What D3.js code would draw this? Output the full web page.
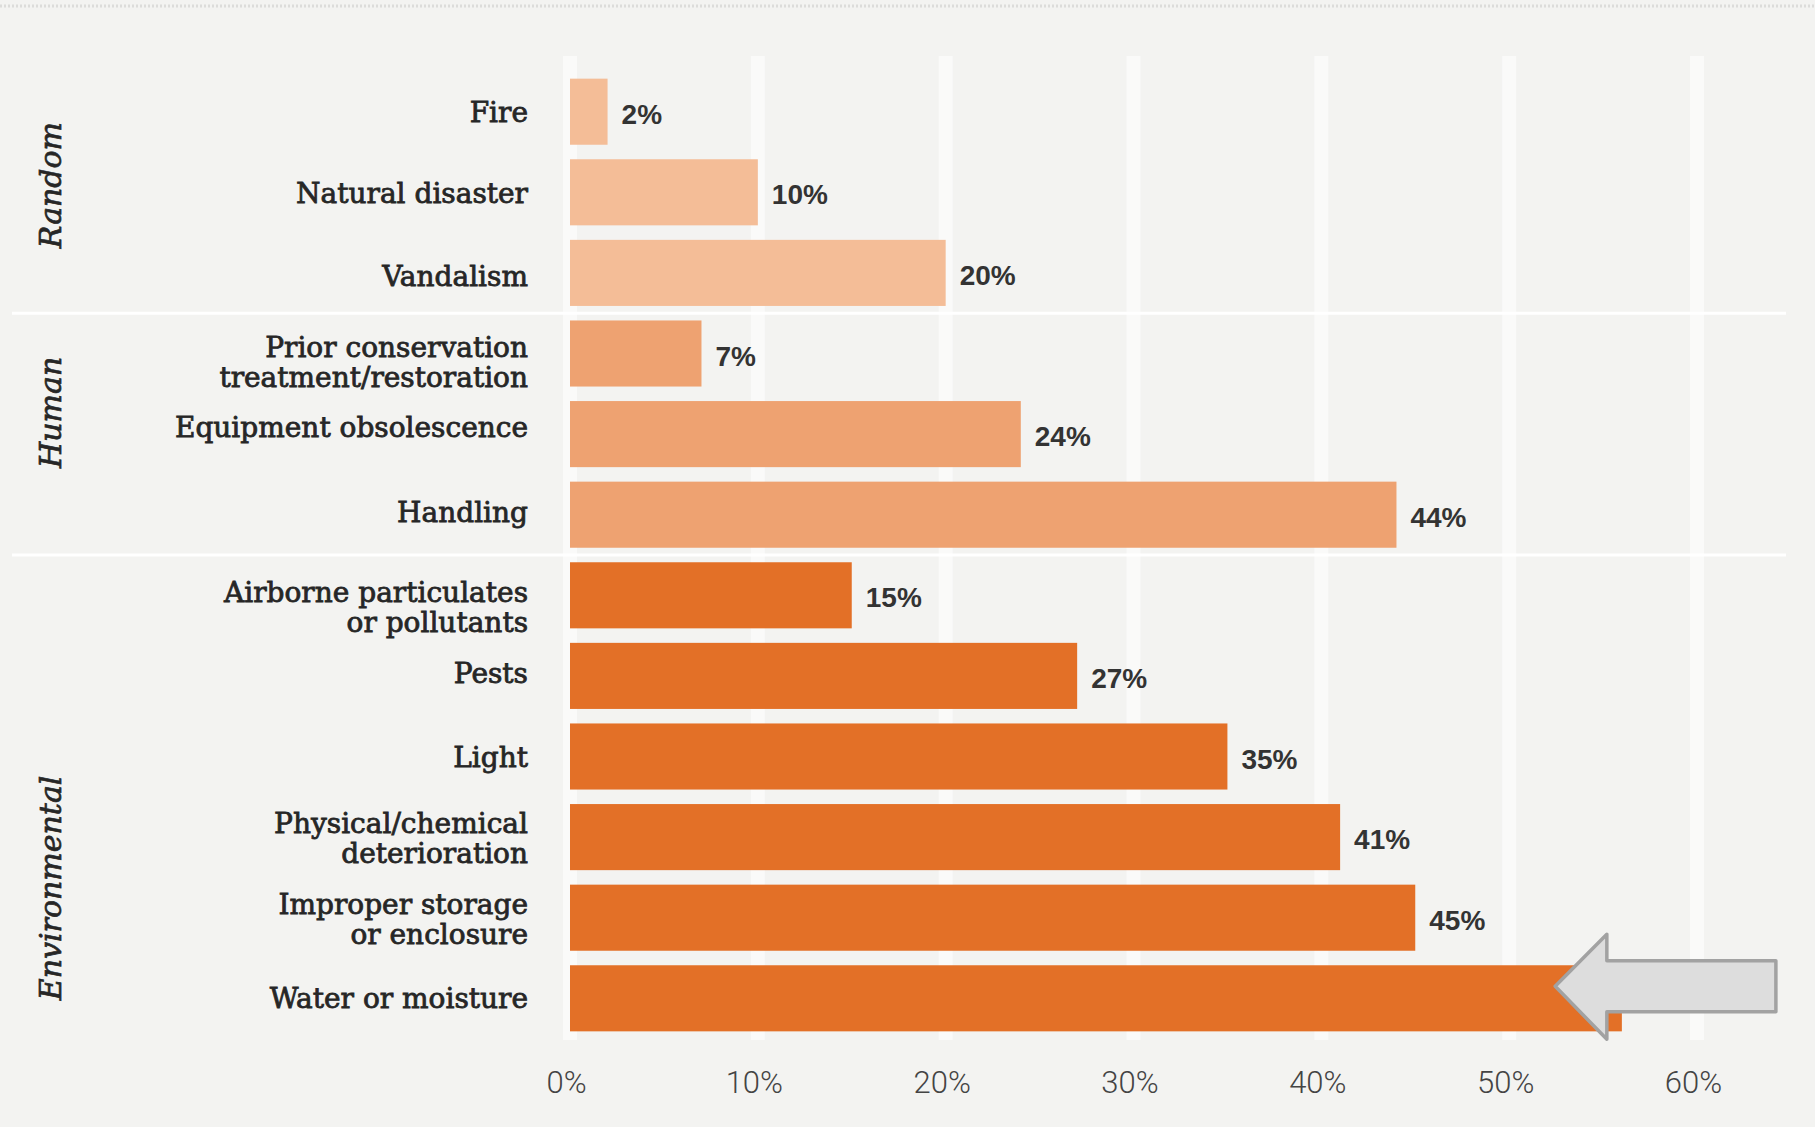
<!DOCTYPE html>
<html>
<head>
<meta charset="utf-8">
<script src="https://cdn.jsdelivr.net/npm/d3@7"></script>
<style>
  html, body { margin: 0; padding: 0; background: #f3f3f1; }
  svg { display: block; }
</style>
</head>
<body>
<svg id="chart" width="1815" height="1127"></svg>
<script>
// ---- data ----
const categories = [
  "Fire", "Natural disaster", "Vandalism",
  "Prior conservation\ntreatment/restoration", "Equipment obsolescence", "Handling",
  "Airborne particulates\nor pollutants", "Pests", "Light",
  "Physical/chemical\ndeterioration", "Improper storage\nor enclosure", "Water or moisture"
];
const values = [2, 10, 20, 7, 24, 44, 15, 27, 35, 41, 45, 56];
const valueLabels = ["2%", "10%", "20%", "7%", "24%", "44%", "15%", "27%", "35%", "41%", "45%", null];
const groupOf = ["Random", "Random", "Random", "Human", "Human", "Human",
  "Environmental", "Environmental", "Environmental", "Environmental", "Environmental", "Environmental"];
const groups = ["Random", "Human", "Environmental"];
const tickValues = [0, 10, 20, 30, 40, 50, 60];
const tickLabels = ["0%", "10%", "20%", "30%", "40%", "50%", "60%"];

// ---- styling / layout ----
const groupColor = { Random: "#f4bd97", Human: "#eea271", Environmental: "#e37027" };
const groupLabelPos = { Random: 1.41, Human: 4.23, Environmental: 10.13 }; // in band steps
const catLabelShift = [0, 1, 3, 8, -7, -3, 12, -3, 0, 1, 1, 0]; // px nudges of category labels

const svg = d3.select("#chart");
const W = 1815, H = 1127;

svg.append("rect").attr("width", W).attr("height", H).attr("fill", "#f3f3f1");
// faint dotted top border
svg.append("line").attr("x1", 0).attr("x2", W).attr("y1", 6).attr("y2", 6)
  .attr("stroke", "#dcdcda").attr("stroke-width", 3).attr("stroke-dasharray", "2,2");

const x = d3.scaleLinear().domain([0, 60]).range([570, 1697]);
const y = d3.scaleBand().domain(categories).range([71.4, 1038.6])
  .paddingInner(0.18).paddingOuter(0.09);
const step = y.step();
const y0 = y.range()[0];

// gridlines (light vertical stripes)
svg.append("g").selectAll("rect").data(tickValues).join("rect")
  .attr("x", d => x(d) - 7).attr("width", 14)
  .attr("y", 56).attr("height", 1040 - 56)
  .attr("fill", "#fafaf9");

// group separators
const sepIdx = [3, 6];
svg.append("g").selectAll("line").data(sepIdx).join("line")
  .attr("x1", 12).attr("x2", 1786)
  .attr("y1", d => y0 + step * d).attr("y2", d => y0 + step * d)
  .attr("stroke", "#ffffff").attr("stroke-width", 3);

// bars
svg.append("g").selectAll("rect").data(categories).join("rect")
  .attr("x", x(0))
  .attr("y", d => y(d))
  .attr("width", (d, i) => x(values[i]) - x(0))
  .attr("height", y.bandwidth())
  .attr("fill", (d, i) => groupColor[groupOf[i]]);

// value labels
svg.append("g").selectAll("text").data(categories.filter((d, i) => valueLabels[i])).join("text")
  .attr("x", d => x(values[categories.indexOf(d)]) + 14)
  .attr("y", d => y(d) + y.bandwidth() / 2 + 2)
  .attr("dy", "0.36em")
  .attr("font-family", "'Liberation Sans', Arial, sans-serif")
  .attr("font-weight", "bold")
  .attr("font-size", 28)
  .attr("fill", "#333")
  .text(d => valueLabels[categories.indexOf(d)]);

// category labels
const lineH = 30;
const catG = svg.append("g")
  .attr("font-family", "'DejaVu Serif', serif")
  .attr("font-size", 28)
  .attr("fill", "#262626")
  .attr("stroke", "#262626").attr("stroke-width", 0.8)
  .attr("text-anchor", "end");
categories.forEach((c, i) => {
  const lines = c.split("\n");
  const cy = y(c) + y.bandwidth() / 2 + catLabelShift[i];
  const t = catG.append("text").attr("x", 528).attr("y", cy);
  lines.forEach((l, k) => {
    t.append("tspan").attr("x", 528)
      .attr("y", cy + (k - (lines.length - 1) / 2) * lineH)
      .attr("dy", "0.36em").text(l);
  });
});

// group labels
svg.append("g").selectAll("text").data(groups).join("text")
  .attr("transform", d => `translate(61,${y0 + step * groupLabelPos[d]}) rotate(-90)`)
  .attr("text-anchor", "middle")
  .attr("font-family", "'DejaVu Serif', serif")
  .attr("font-style", "italic")
  .attr("font-size", 30)
  .attr("fill", "#262626")
  .attr("stroke", "#262626").attr("stroke-width", 0.7)
  .text(d => d);

// x axis tick labels
const axis = d3.axisBottom(x).tickValues(tickValues)
  .tickFormat((d, i) => tickLabels[i]).tickSize(0).tickPadding(0);
const ax = svg.append("g").attr("transform", "translate(-4,1071)").call(axis);
ax.select(".domain").remove();
ax.selectAll("text")
  .attr("font-family", "Roboto, 'Liberation Sans', sans-serif")
  .attr("font-weight", 300)
  .attr("font-size", 31)
  .attr("fill", "#444");

// annotation arrow pointing at the "Water or moisture" bar
const last = categories[categories.length - 1];
const acy = y(last) + y.bandwidth() / 2 - 12;
const tipX = x(52.45), headX = x(55.2), endX = x(64.2);
const arrow = [
  [tipX, acy],
  [headX, acy - 52],
  [headX, acy - 25.5],
  [endX, acy - 25.5],
  [endX, acy + 25.5],
  [headX, acy + 25.5],
  [headX, acy + 53]
];
svg.append("path")
  .attr("d", d3.line()(arrow) + "Z")
  .attr("fill", "#dddddd")
  .attr("stroke", "#a2a2a2")
  .attr("stroke-width", 3.5)
  .attr("stroke-linejoin", "round");
</script>
</body>
</html>
